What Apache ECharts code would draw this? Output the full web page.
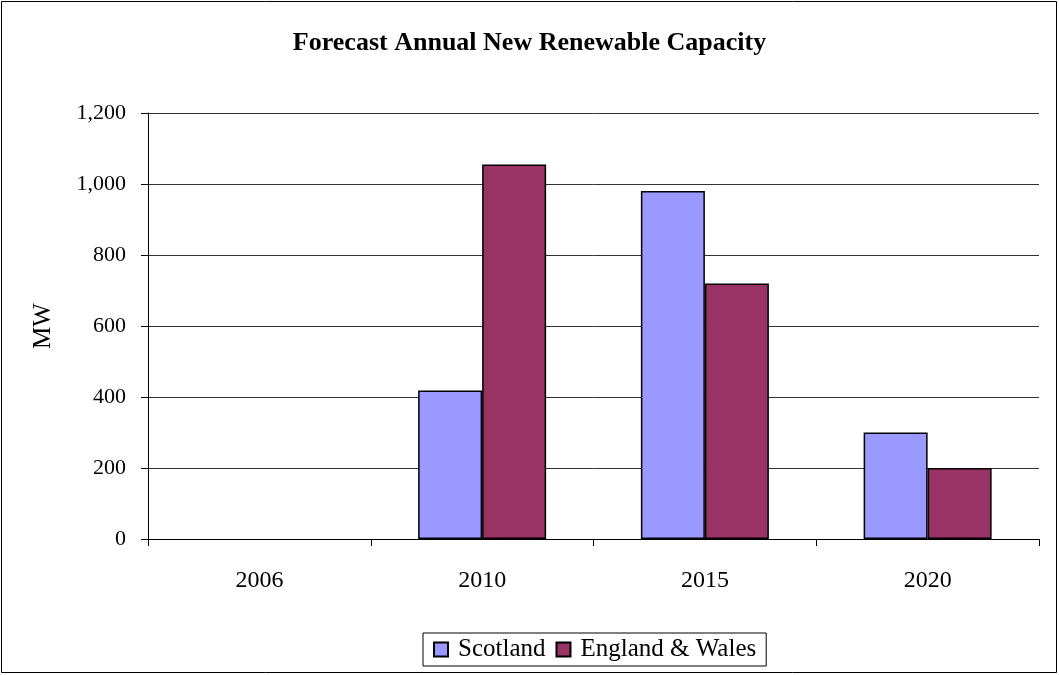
<!DOCTYPE html>
<html><head><meta charset="utf-8">
<script src="https://cdn.jsdelivr.net/npm/echarts@6/dist/echarts.min.js"></script>
<style>html,body{margin:0;padding:0;background:#fff}#c{width:1059px;height:675px}</style>
</head><body><div id="c"></div>
<script>
const categories = ['2006', '2010', '2015', '2020'];
const scotland = [0, 418, 980, 300];
const englandWales = [0, 1055, 720, 200];
const yTicks = [0, 200, 400, 600, 800, 1000, 1200];

const chart = echarts.init(document.getElementById('c'), null, {renderer: 'canvas'});
const serif = '"Liberation Serif", "Times New Roman", serif';
const hideZero = arr => arr.map(v => v === 0 ? null : v);
chart.setOption({
  animation: false,
  backgroundColor: '#fff',
  title: {
    text: 'Forecast Annual New Renewable Capacity',
    left: 'center', top: 25,
    textStyle: {fontFamily: serif, fontSize: 26, fontWeight: 'bold', color: '#000'}
  },
  graphic: [{
    type: 'rect', shape: {x: 1.5, y: 1.5, width: 1055, height: 671},
    style: {fill: 'none', stroke: '#000', lineWidth: 1}, silent: true
  }],
  grid: {left: 148, right: 20, top: 113, bottom: 136, containLabel: false},
  legend: {
    bottom: 9, left: 423,
    data: ['Scotland', 'England & Wales'],
    borderColor: '#000', borderWidth: 1,
    padding: [4, 10, 4, 10],
    itemWidth: 14, itemHeight: 14, itemGap: 10,
    textStyle: {fontFamily: serif, fontSize: 25, color: '#000', padding: [0, 0, 0, 5]},
    icon: 'rect'
  },
  xAxis: {
    type: 'category', data: categories,
    axisLine: {lineStyle: {color: '#000', width: 1}},
    axisTick: {show: true, length: 7, lineStyle: {color: '#000'}},
    axisLabel: {fontFamily: serif, fontSize: 24, color: '#000', margin: 30}
  },
  yAxis: {
    type: 'value', min: 0, max: 1200, interval: 200,
    name: 'MW', nameLocation: 'middle', nameGap: 92, nameRotate: 90,
    nameTextStyle: {fontFamily: serif, fontSize: 25, color: '#000'},
    axisLine: {show: true, lineStyle: {color: '#000'}},
    axisTick: {show: true, length: 7, lineStyle: {color: '#000'}},
    axisLabel: {fontFamily: serif, fontSize: 22, color: '#000', margin: 22,
      formatter: v => yTicks.includes(v) ? v.toLocaleString('en-US') : ''},
    splitLine: {show: true, lineStyle: {color: '#333', width: 1}}
  },
  series: [
    {name: 'Scotland', type: 'bar', data: hideZero(scotland), barWidth: 64, barGap: '0%',
      itemStyle: {color: '#9999FF', borderColor: '#000', borderWidth: 1.5}},
    {name: 'England & Wales', type: 'bar', data: hideZero(englandWales), barWidth: 64,
      itemStyle: {color: '#993366', borderColor: '#000', borderWidth: 1.5}}
  ]
});
</script></body></html>
